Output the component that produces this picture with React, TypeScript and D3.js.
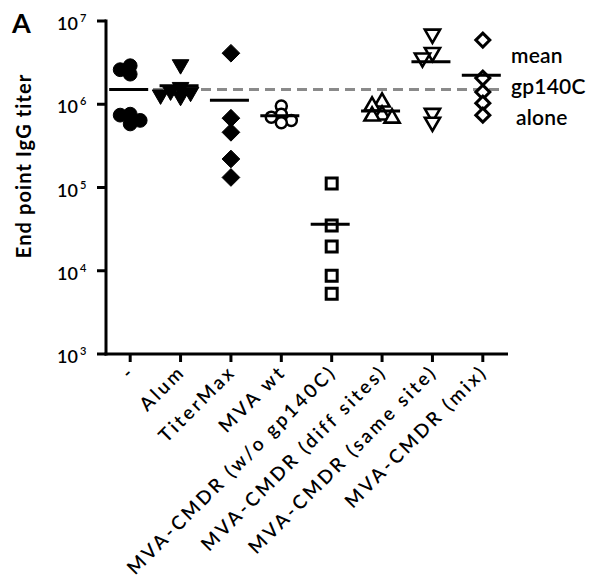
import React from "react";
import * as d3 from "d3";

const categories = [
  "-",
  "Alum",
  "TiterMax",
  "MVA wt",
  "MVA-CMDR (w/o gp140C)",
  "MVA-CMDR (diff sites)",
  "MVA-CMDR (same site)",
  "MVA-CMDR (mix)",
];

const gp140Alone = [2.9e6, 2.6e6, 2.3e6, 7.6e5, 5.8e5, 6.4e5, 7.4e5];
const alum = [3.0e6, 1.6e6, 1.45e6, 1.4e6, 1.3e6, 1.25e6];
const titerMax = [4.1e6, 6.8e5, 4.6e5, 2.2e5, 1.32e5];
const mvaWt = [9.5e5, 7.6e5, 7.0e5, 6.4e5, 6.0e5];
const cmdrNoGp = [1.12e5, 3.5e4, 1.95e4, 8.7e3, 5.3e3];
const cmdrDiff = [1.06e6, 9.5e5, 7.4e5, 6.8e5, 7.2e5];
const cmdrSame = [6.97e6, 4.2e6, 3.6e6, 7.8e5, 6.1e5];
const cmdrMix = [5.9e6, 2.06e6, 1.4e6, 1.03e6, 7.4e5];

const groupValues = [gp140Alone, alum, titerMax, mvaWt, cmdrNoGp, cmdrDiff, cmdrSame, cmdrMix];

const yTickValues = [1e3, 1e4, 1e5, 1e6, 1e7];
const yTickExponents = ["3", "4", "5", "6", "7"];

const annotationLines = ["mean", "gp140C", "alone"];

type Marker = { type: d3.SymbolType; size: number; filled: boolean; rotate: number; sw: number };
const markers: Marker[] = [
  { type: d3.symbolCircle, size: 150, filled: true, rotate: 0, sw: 1 },
  { type: d3.symbolTriangle, size: 120, filled: true, rotate: 180, sw: 1 },
  { type: d3.symbolDiamond2, size: 200, filled: true, rotate: 0, sw: 1 },
  { type: d3.symbolCircle, size: 95, filled: false, rotate: 0, sw: 2.5 },
  { type: d3.symbolSquare, size: 121, filled: false, rotate: 0, sw: 3 },
  { type: d3.symbolTriangle, size: 100, filled: false, rotate: 0, sw: 2.6 },
  { type: d3.symbolTriangle, size: 100, filled: false, rotate: 180, sw: 2.6 },
  { type: d3.symbolDiamond2, size: 125, filled: false, rotate: 0, sw: 3 },
];

const FONT = "Lato, 'Open Sans', sans-serif";

function swarm(ys: number[], step: number, minDist: number): number[] {
  const order = ys.map((y, i) => i).sort((a, b) => ys[a] - ys[b]);
  const placed: { x: number; y: number }[] = [];
  const offs = new Array(ys.length).fill(0);
  for (const i of order) {
    const y = ys[i];
    let chosen = 0;
    for (let k = 0; k < 14; k++) {
      const cand = k === 0 ? 0 : (k % 2 === 1 ? -1 : 1) * Math.ceil(k / 2) * step;
      if (placed.every((p) => Math.hypot(p.x - cand, p.y - y) >= minDist)) {
        chosen = cand;
        break;
      }
    }
    placed.push({ x: chosen, y });
    offs[i] = chosen;
  }
  return offs;
}

export default function App() {
  const W = 591;
  const H = 587;
  const axisX = 106;
  const axisY = 354;
  const x = d3.scaleBand<string>().domain(categories).range([105, 508]).padding(0);
  const cx = (c: string) => (x(c) as number) + x.bandwidth() / 2;
  const y = d3.scaleLog().domain([1e3, 1e7]).range([354, 21]);

  const refMean = d3.mean(gp140Alone) as number;
  const refY = y(refMean);

  return (
    <svg
      width={W}
      height={H}
      style={{ position: "absolute", left: 0, top: 0, background: "#fff" }}
      fontFamily={FONT}
    >
      <rect width={W} height={H} fill="#fff" />
      <text x={12} y={33} fontSize={27} fontWeight={700} fill="#000">A</text>

      {/* Y axis title */}
      <text
        transform={`translate(31,166) rotate(-90)`}
        textAnchor="middle"
        fontSize={20}
        fontWeight={700}
        letterSpacing={1.1}
        fill="#000"
      >
        End point IgG titer
      </text>

      {/* reference dashed line */}
      <line
        x1={153}
        x2={503}
        y1={refY}
        y2={refY}
        stroke="#8a8a8a"
        strokeWidth={3}
        strokeDasharray="10,6"
      />

      {/* axes */}
      <line x1={axisX} x2={axisX} y1={y(1e7) - 1.5} y2={axisY + 1.5} stroke="#000" strokeWidth={3} />
      <line x1={axisX - 1.5} x2={508} y1={axisY} y2={axisY} stroke="#000" strokeWidth={3} />
      {yTickValues.map((v, i) => (
        <g key={"yt" + i}>
          <line x1={axisX - 9} x2={axisX} y1={y(v)} y2={y(v)} stroke="#000" strokeWidth={3} />
          <text x={78} y={y(v) + 9} textAnchor="end" fontSize={18} fontWeight={600} fill="#000">10</text>
          <text x={80} y={y(v) + 1} textAnchor="start" fontSize={11} fontWeight={600} fill="#000">{yTickExponents[i]}</text>
        </g>
      ))}
      {categories.map((c) => (
        <g key={"xt" + c}>
          <line x1={cx(c)} x2={cx(c)} y1={axisY} y2={axisY + 8} stroke="#000" strokeWidth={3} />
          <text
            transform={`translate(${cx(c) + 6},${axisY + 19}) rotate(-45)`}
            textAnchor="end"
            fontSize={19}
            fontWeight={600}
            letterSpacing={2.9}
            fill="#000"
          >
            {c}
          </text>
        </g>
      ))}

      {/* points */}
      {categories.map((c, gi) => {
        const vals = groupValues[gi];
        const ys = vals.map((v) => y(v));
        const offs = swarm(ys, 5, 8);
        const m = markers[gi];
        const path = d3.symbol().type(m.type).size(m.size)() as string;
        return (
          <g key={"g" + gi}>
            {vals.map((v, i) => (
              <path
                key={i}
                d={path}
                transform={`translate(${cx(c) + offs[i]},${ys[i]}) rotate(${m.rotate})`}
                fill={m.filled ? "#000" : "#fff"}
                stroke="#000"
                strokeWidth={m.sw}
                strokeLinejoin="miter"
              />
            ))}
          </g>
        );
      })}

      {/* mean lines */}
      {categories.map((c, gi) => {
        const mv = d3.mean(groupValues[gi]) as number;
        return (
          <line
            key={"m" + gi}
            x1={cx(c) - 21}
            x2={cx(c) + 18}
            y1={y(mv)}
            y2={y(mv)}
            stroke="#000"
            strokeWidth={3}
          />
        );
      })}

      {/* annotation */}
      {annotationLines.map((t, i) => (
        <text
          key={t}
          x={i === 2 ? 516 : 511}
          y={63 + i * 31}
          fontSize={21}
          fontWeight={600}
          letterSpacing={0.2}
          fill="#000"
        >
          {t}
        </text>
      ))}
    </svg>
  );
}
